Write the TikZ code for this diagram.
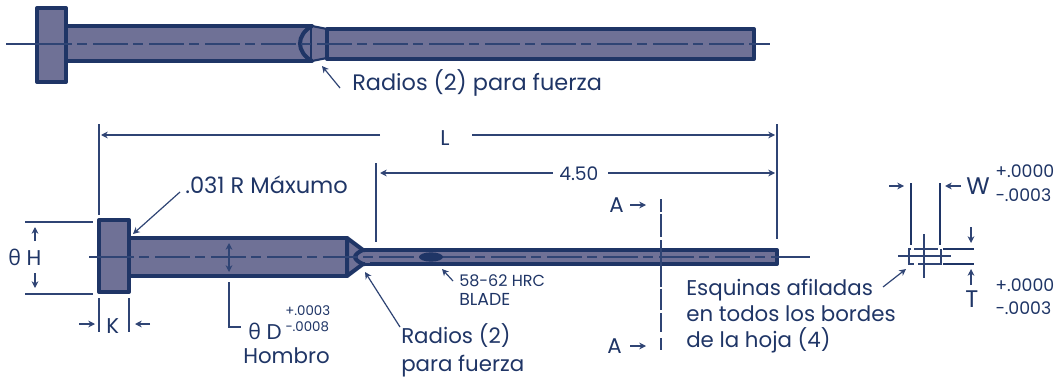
\documentclass[tikz,border=0pt]{standalone}
\usepackage{fontspec}
\setmainfont{Poppins}
\newfontfamily\greekfont{Open Sans}
\usetikzlibrary{arrows.meta,shapes.geometric}
\definecolor{ink}{HTML}{1F3566}
\definecolor{steel}{HTML}{6F7196}
\definecolor{thin}{HTML}{2F4474}
\tikzset{
  part/.style={draw=ink,fill=steel,line width=3pt,line join=round},
  edge/.style={draw=ink,line width=3pt},
  axis/.style={draw=thin,line width=1pt,dash pattern=on 26pt off 4pt on 7.5pt off 4.5pt},
  secline/.style={draw=thin,line width=1pt,dash pattern=on 9.75pt off 1.5pt on 17.25pt off 2.25pt on 35pt off 1.5pt on 16pt off 2.25pt on 14.25pt off 4.5pt on 9pt off 50pt},
  plain/.style={draw=thin,line width=1pt},
  thinpart/.style={draw=thin,line width=1.1pt},
  dim/.style={draw=thin,line width=.9pt,-{Stealth[length=5pt,width=5pt,inset=1.5pt]}},
  dimm/.style={draw=thin,line width=.9pt,{Stealth[length=5pt,width=5pt,inset=1.5pt]}-{Stealth[length=5pt,width=5pt,inset=1.5pt]}},
  lab/.style={text=ink,font=\fontsize{16}{16}\selectfont,anchor=base west,inner sep=0pt},
  big/.style={text=ink,font=\fontsize{16.8}{17}\selectfont,anchor=base west,inner sep=0pt},
  tol/.style={text=ink,font=\fontsize{13}{13}\selectfont,anchor=base west,inner sep=0pt},
  tolsmall/.style={text=ink,font=\fontsize{10}{12}\selectfont,anchor=base west,inner sep=0pt},
  small/.style={text=ink,font=\fontsize{12}{12}\selectfont,anchor=base west,inner sep=0pt},
}
\begin{document}
\begin{tikzpicture}[x=.75pt,y=-.75pt]
\useasboundingbox (0,0) rectangle (1056,378);
% top punch
\path[part] (37,8) rectangle (66,82);
\path[part] (66,26) rectangle (312,61);
\path[fill=steel] (312,26) -- (327,29) -- (327,58) -- (312,61) -- cycle;
\draw[ink,line width=1.6pt] (312,26) -- (327,29) (312,61) -- (327,58);
\path[part] (327,29) rectangle (754,59);
\draw[edge] (312,26) .. controls (296,35) and (296,52) .. (312,61);
\coordinate (ta) at (6,44); \coordinate (tb) at (770,44);
\coordinate (ta2) at (37,44); \coordinate (tb2) at (754,44);
\draw[axis] (ta2) -- (tb2);
\draw[plain] (ta) -- (ta2) (tb2) -- (tb);
% bottom punch
\path[part] (99,220) rectangle (129,292);
\path[part] (129,238) rectangle (347,276);
\path[part] (347,238) -- (363,250) -- (363,264) -- (347,276) -- cycle;
\path[part] (363,250) rectangle (777,264);
\path[fill=steel] (360,251.5) rectangle (370,262.5);
\draw[edge] (365,250) -- (363,250) .. controls (358,252) and (355,255) .. (355,257) .. controls (355,259) and (358,262) .. (363,264) -- (365,264);
\coordinate (ba) at (89,257); \coordinate (bb) at (810,257);
\coordinate (ba2) at (99,257); \coordinate (bb2) at (777,257);
\draw[axis] (ba2) -- (bb2);
\draw[plain] (ba) -- (ba2) (bb2) -- (bb);
\node[ellipse,fill=ink,minimum width=18pt,minimum height=7pt,inner sep=0pt] (oval) at (431,257) {};
% labels
\node[big] (r1) at (352,90) {Radios (2) para fuerza};
\node[lab] (lL) at (440,145) {L};
\node[text=ink,font=\fontsize{14}{14}\selectfont,anchor=base west,inner sep=0pt] (l450) at (559,180) {4.50};
\node[big,font=\fontsize{16.9}{17}\selectfont] (lmax) at (185,193) {.031 R Máxumo};
\node[lab] (lH) at (8,265) {{\greekfont θ} H};
\node[lab] (lK) at (106,333) {K};
\node[lab] (lD) at (248,339) {{\greekfont θ} D};
\node[tolsmall] (dp) at (285,315) {+.0003};
\node[tolsmall] (dm) at (285,331) {−.0008};
\node[lab] (lH2) at (243,363) {Hombro};
\node[lab] (r2) at (401,343) {Radios (2)};
\node[lab] (r3) at (401,371) {para fuerza};
\node[small] (h1) at (459,286) {58-62 HRC};
\node[small,font=\fontsize{13}{13}\selectfont] (h2) at (459,305) {BLADE};
\node[lab] (a1) at (609,212) {A};
\node[lab] (a2) at (607,353) {A};
\node[lab] (e1) at (686,295) {Esquinas afiladas};
\node[lab] (e2) at (686,321) {en todos los bordes};
\node[lab] (e3) at (686,347) {de la hoja (4)};
\node[big,font=\fontsize{18}{18}\selectfont] (lW) at (966,194) {W};
\node[tol] (wp) at (995,177) {+.0000};
\node[tol] (wm) at (995,201) {−.0003};
\node[big,font=\fontsize{18}{18}\selectfont] (lT) at (965,307) {T};
\node[tol] (tp) at (995,291) {+.0000};
\node[tol] (tm) at (995,314) {−.0003};
% dimension lines
\draw[plain] (99,124) -- (99,215);
\draw[plain] (777,124) -- (777,239);
\draw[dim] (380,135) -- (101,135);
\draw[dim] (472,135) -- (775,135);
\draw[plain] (376,163) -- (376,242);
\draw[dim] (553,173) -- (380,173);
\draw[dim] (608,173) -- (775,173);
\draw[dim] (180,192) -- (133,234);
\draw[plain] (25,222) -- (93,222);
\draw[plain] (25,294) -- (93,294);
\draw[dim] (35,241) -- (35,227);
\draw[dim] (35,273) -- (35,288);
\draw[plain] (99,298) -- (99,332);
\draw[plain] (129,298) -- (129,332);
\draw[dim] (79,324) -- (95,324);
\draw[dim] (150,324) -- (135,324);
\draw[dimm] (229,243) -- (229,272);
\draw[plain] (229,282) -- (229,327) -- (241,327);
\draw[dim] (400,327) -- (365,272);
\draw[dim] (453,281) -- (442,269);
\draw[dim] (340,88) -- (322,66);
\draw[dim] (630,205) -- (646,205);
\draw[dim] (630,346) -- (646,346);
\draw[secline] (661,199) -- (661,350);
\draw[dim] (883,287) -- (906,269);
\draw[dim] (889,186) -- (904,186);
\draw[dim] (961,186) -- (945,186);
\draw[ink,line width=1.3pt] (911,183) -- (911,245) (940,183) -- (940,245);
\draw[ink,line width=1.3pt] (943,249) -- (974,249) (943,264) -- (974,264);
\draw[dim] (971,227) -- (971,243);
\draw[dim] (971,285) -- (971,269);
% cross section
\draw[thinpart] (898,256) -- (951,256);
\draw[thinpart] (924,234) -- (924,278);
\draw[thinpart] (914,249) -- (938,249);
\draw[thinpart] (911,249) -- (909,249) -- (909,264) -- (914,264);
\draw[thinpart] (918,264) -- (941,264) -- (941,249);
\end{tikzpicture}
\end{document}
